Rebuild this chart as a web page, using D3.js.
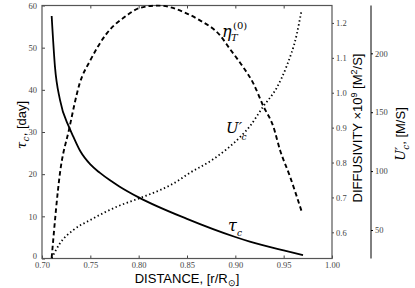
<!DOCTYPE html>
<html><head><meta charset="utf-8">
<script src="https://cdn.jsdelivr.net/npm/d3@7"></script>
<style>
html,body{margin:0;padding:0;background:#fff;}
svg{display:block;}
.tick text{font-family:"Liberation Serif","DejaVu Serif",serif;font-size:8.5px;fill:#444;}
</style></head>
<body><svg id="c" width="415" height="288"></svg>
<script>
// Convective turnover time tau_c [day] (left axis)
const tauR = [0.710,0.7134,0.7186,0.7279,0.7324,0.740,0.750,0.760,0.770,0.780,0.800,0.850,0.900,0.915,0.950,0.970];
const tauV = [57.5,45.5,37.6,31.2,28.9,25.3,22.3,20.3,18.6,17.1,14.5,9.4,5.1,4.0,1.9,0.8];
// Turbulent diffusivity eta_T^(0) x10^9 [m^2/s] (right axis)
const etaR = [0.710,0.7186,0.728,0.739,0.750,0.767,0.788,0.801,0.820,0.850,0.863,0.884,0.8945,0.908,0.9186,0.9289,0.9393,0.9462,0.9565,0.9686];
const etaV = [0.527,0.770,0.895,1.027,1.093,1.170,1.222,1.243,1.250,1.227,1.208,1.165,1.125,1.074,1.027,0.962,0.903,0.836,0.760,0.660];
// Convective velocity U'_c [m/s] (third axis)
const uR = [0.710,0.7186,0.7324,0.750,0.781,0.801,0.843,0.850,0.877,0.905,0.915,0.929,0.943,0.953,0.9635,0.9686];
const uV = [26,38.7,50,58.5,71,77,93,97,110,129,138,155,171,189,216,237];
// Tick labels
const xTicks = [0.70,0.75,0.80,0.85,0.90,0.95,1.00];
const tauTicks = [0,10,20,30,40,50,60];
const etaTicks = [0.6,0.7,0.8,0.9,1.0,1.1,1.2];
const uTicks = [50,100,150,200];

const svg = d3.select("#c");
const L=42, R=332, T=5.5, B=258.5, AX3=371;
const x = d3.scaleLinear().domain([0.70,1.00]).range([L,R]);
const yL = d3.scaleLinear().domain([0,60]).range([B,T]);
const yR = d3.scaleLinear().domain([0.525,1.25]).range([B,T]);
const yU = d3.scaleLinear().domain([25.8,240.6]).range([B,T]);

function styleAxis(g, stroke){
  g.select(".domain").remove();
  g.selectAll(".tick line").attr("stroke",stroke).attr("stroke-width",1);
}
svg.append("g").attr("transform",`translate(0,${B})`)
  .call(d3.axisBottom(x).tickValues(xTicks).tickFormat(d3.format(".2f")).tickSizeInner(-3).tickSizeOuter(0).tickPadding(3))
  .call(g=>styleAxis(g,"#444"));
svg.append("g").attr("transform",`translate(0,${T})`)
  .call(d3.axisTop(x).tickValues(xTicks.slice(1,-1)).tickFormat("").tickSizeInner(-3).tickSizeOuter(0))
  .call(g=>styleAxis(g,"#444"));
svg.append("g").attr("transform",`translate(${L},0)`)
  .call(d3.axisLeft(yL).tickValues(tauTicks).tickFormat(d3.format("d")).tickSizeInner(-3).tickSizeOuter(0).tickPadding(5))
  .call(g=>styleAxis(g,"#444"))
  .call(g=>g.selectAll(".tick text").filter(d=>d===0).attr("dy","-0.05em"));
svg.append("g").attr("transform",`translate(${R},0)`)
  .call(d3.axisRight(yR).tickValues(etaTicks).tickFormat(d3.format(".1f")).tickSizeInner(2).tickSizeOuter(0).tickPadding(2))
  .call(g=>styleAxis(g,"#444"));
svg.append("g").attr("transform",`translate(${AX3},0)`)
  .call(d3.axisRight(yU).tickValues(uTicks).tickFormat(d3.format("d")).tickSizeInner(2).tickSizeOuter(0).tickPadding(2))
  .call(g=>{ g.select(".domain").attr("stroke","#000").attr("d",`M0,${T}V${B}`); g.selectAll(".tick line").attr("stroke","#000"); });

svg.append("rect").attr("x",L).attr("y",T).attr("width",R-L).attr("height",B-T)
  .attr("fill","none").attr("stroke","#555").attr("stroke-width",1.2);

svg.append("clipPath").attr("id","pc").append("rect")
  .attr("x",L).attr("y",T-1).attr("width",R-L).attr("height",B-T+2);
const plot = svg.append("g").attr("clip-path","url(#pc)");

const mk = (ys)=>d3.line().x(d=>x(d[0])).y(d=>ys(d[1])).curve(d3.curveMonotoneX);
plot.append("path").datum(d3.zip(tauR,tauV)).attr("d",mk(yL))
  .attr("fill","none").attr("stroke","#000").attr("stroke-width",1.8);
plot.append("path").datum(d3.zip(etaR,etaV)).attr("d",mk(yR))
  .attr("fill","none").attr("stroke","#000").attr("stroke-width",1.9).attr("stroke-dasharray","4.5,3");
plot.append("path").datum(d3.zip(uR,uV)).attr("d",mk(yU))
  .attr("fill","none").attr("stroke","#000").attr("stroke-width",1.8).attr("stroke-dasharray","1.4,2.6");

const serif = '"DejaVu Serif","Liberation Serif",serif';
const sans = '"Liberation Sans",Arial,sans-serif';
const eta = svg.append("text").attr("font-family",serif).attr("font-style","italic").attr("fill","#000");
eta.append("tspan").attr("x",222).attr("y",37).attr("font-size",16).text("η");
eta.append("tspan").attr("x",231).attr("y",41).attr("font-size",10).text("T");
svg.append("text").attr("x",233).attr("y",29).attr("font-family",serif).attr("font-size",10).text("(0)");

svg.append("text").attr("x",226).attr("y",133).attr("font-family",serif).attr("font-style","italic")
  .attr("font-size",15).text("U′");
svg.append("text").attr("x",241.5).attr("y",140).attr("font-family",serif).attr("font-style","italic")
  .attr("font-size",9).text("c");

svg.append("text").attr("x",228).attr("y",231).attr("font-family",serif).attr("font-style","italic")
  .attr("font-size",16).text("τ");
svg.append("text").attr("x",237).attr("y",236).attr("font-family",serif).attr("font-style","italic")
  .attr("font-size",9).text("c");

const xl = svg.append("text").attr("x",187).attr("y",283).attr("text-anchor","middle")
  .attr("font-family",sans).attr("font-size",13).attr("fill","#000");
xl.append("tspan").text("DISTANCE, [r/R");
xl.append("tspan").attr("font-size",9).attr("dy",3).text("⊙");
xl.append("tspan").attr("dy",-3).text("]");

const ll = svg.append("text").attr("transform","translate(26,125) rotate(-90)").attr("text-anchor","middle")
  .attr("font-size",13).attr("fill","#000");
ll.append("tspan").attr("font-family",serif).attr("font-style","italic").text("τ");
ll.append("tspan").attr("font-family",serif).attr("font-style","italic").attr("font-size",9).attr("dx",0.5).attr("dy",3).text("c");
ll.append("tspan").attr("font-family",sans).attr("dy",-3).text(", [day]");

const rl = svg.append("text").attr("transform","translate(362,128) rotate(-90)").attr("text-anchor","middle")
  .attr("font-family",sans).attr("font-size",13).attr("fill","#000");
rl.append("tspan").text("DIFFUSIVITY ×10");
rl.append("tspan").attr("font-size",9).attr("dy",-5).text("9");
rl.append("tspan").attr("dy",5).text(" [M");
rl.append("tspan").attr("font-size",9).attr("dy",-5).text("2");
rl.append("tspan").attr("dy",5).text("/S]");

const ql = svg.append("text").attr("transform","translate(405,134) rotate(-90)").attr("text-anchor","middle")
  .attr("font-size",13).attr("fill","#000");
ql.append("tspan").attr("font-family",serif).attr("font-style","italic").text("U′");
ql.append("tspan").attr("font-family",serif).attr("font-style","italic").attr("font-size",9).attr("dx",-3).attr("dy",4).text("c");
ql.append("tspan").attr("font-family",sans).attr("dy",-4).text(", [M/S]");
</script></body></html>
